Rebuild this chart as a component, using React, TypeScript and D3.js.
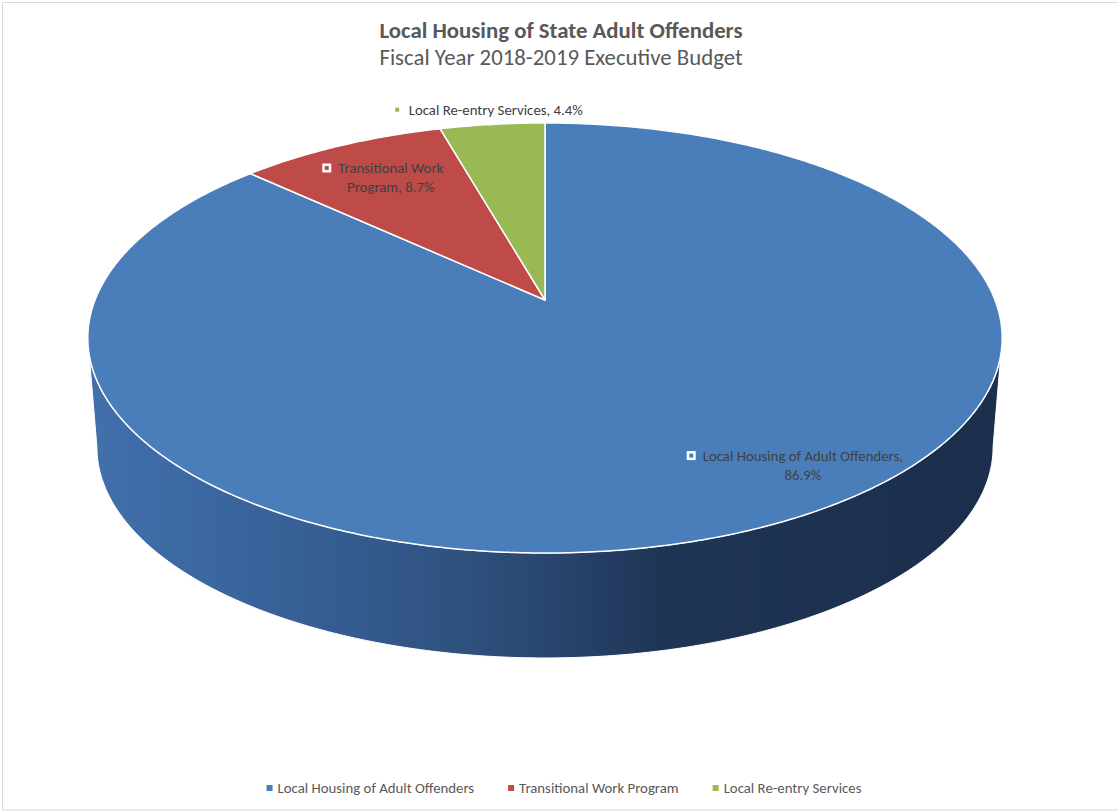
import React, { useEffect, useRef } from "react";
import * as d3 from "d3";

const categories = ["Local Housing of Adult Offenders", "Transitional Work Program", "Local Re-entry Services"];
const values = [86.9, 8.7, 4.4];
const labelLines = [
  ["Local Housing of Adult Offenders,", "86.9%"],
  ["Transitional Work", "Program, 8.7%"],
  ["Local Re-entry Services, 4.4%"],
];
const colors = ["#4a7ebb", "#be4b48", "#98b954"];
const titleText = "Local Housing of State Adult Offenders";
const subtitleText = "Fiscal Year 2018-2019 Executive Budget";

// label placement config: radial factor and alignment of the marker/block
const labelR = [0.72, 0.77, 1.1];
const labelAlign = ["start", "middle", "middle"];

const W = 1118;
const H = 812;
const CX = 545;
const CY = 300;
const A = 450;
const B = 208.3;
const K = 0.1767;
const S = 0.98;
const CYB = 410;
const FONT = "Carlito, Calibri, Lato, 'Noto Sans', sans-serif";
const LABEL_FS = 14.8;
const TITLE_FS = 22.8;

function proj(theta: number, r: number, bottom = false): [number, number] {
  const u = r * Math.sin(theta);
  const v = -r * Math.cos(theta);
  const d = 1 - K * v;
  const X = (A * u) / d;
  const Y = (B * v) / d;
  return bottom ? [CX + S * X, CYB + S * Y] : [CX + X, CY + Y];
}

function arcPoints(a0: number, a1: number, bottom = false) {
  const n = Math.max(2, Math.ceil(Math.abs(a1 - a0) / 0.01));
  const pts: [number, number][] = [];
  for (let i = 0; i <= n; i++) {
    const t = a0 + ((a1 - a0) * i) / n;
    pts.push(proj(t, 1, bottom));
  }
  return pts;
}

export default function App() {
  const ref = useRef<SVGSVGElement>(null);
  useEffect(() => {
    const svg = d3.select(ref.current);
    svg.selectAll("*").remove();

    svg.append("rect").attr("x", 2.5).attr("y", 2.5).attr("width", W + 10).attr("height", H - 4.5)
      .attr("fill", "#fff").attr("stroke", "#d9d9d9").attr("stroke-width", 1);

    const defs = svg.append("defs");
    const grad = defs.append("linearGradient").attr("id", "sideGrad")
      .attr("gradientUnits", "userSpaceOnUse").attr("x1", 88).attr("x2", 1002).attr("y1", 0).attr("y2", 0);
    const stops: [number, string][] = [
      [0, "#4170ab"], [0.12, "#3b68a1"], [0.3, "#345a8e"], [0.42, "#2e507c"],
      [0.55, "#263f66"], [0.63, "#1f3555"], [1, "#1b2f4c"],
    ];
    stops.forEach(([o, c]) => grad.append("stop").attr("offset", o).attr("stop-color", c));

    const pie = d3.pie<number>().sort(null).value((d) => d);
    const arcs = pie(values);
    const line = d3.line<[number, number]>();

    // side (front visible part)
    const tR = Math.acos(-K);
    const tL = 2 * Math.PI - tR;
    arcs.forEach((a, i) => {
      const s0 = Math.max(a.startAngle, tR);
      const s1 = Math.min(a.endAngle, tL);
      if (s1 <= s0) return;
      const top = arcPoints(s0, s1, false);
      const bot = arcPoints(s1, s0, true);
      const pts = top.concat(bot);
      svg.append("path").attr("d", line(pts) + "Z")
        .attr("fill", i === 0 ? "url(#sideGrad)" : d3.color(colors[i])!.darker(1).toString())
        .attr("stroke", "#fff").attr("stroke-width", 1);
    });

    // top faces
    arcs.forEach((a, i) => {
      const pts: [number, number][] = [[CX, CY], ...arcPoints(a.startAngle, a.endAngle, false)];
      svg.append("path").attr("d", line(pts) + "Z")
        .attr("fill", colors[i]).attr("stroke", "#fff").attr("stroke-width", 1.5)
        .attr("stroke-linejoin", "round");
    });

    // data labels
    arcs.forEach((a, i) => {
      const mid = (a.startAngle + a.endAngle) / 2;
      const [ax, ay] = proj(mid, labelR[i], false);
      const g = svg.append("g");
      const lines = labelLines[i];
      const lh = 19;
      const t0 = g.append("text").attr("font-family", FONT).attr("font-size", LABEL_FS)
        .attr("fill", "#404040").attr("dominant-baseline", "central").text(lines[0]);
      const w0 = (t0.node() as SVGTextElement).getComputedTextLength();
      const off = 16;
      const blockW = off + w0;
      const left = labelAlign[i] === "start" ? ax - 5 : ax - blockW / 2;
      const y0 = labelAlign[i] === "start" ? ay : ay - ((lines.length - 1) * lh) / 2;
      t0.attr("x", left + off).attr("y", y0);
      g.append("rect").attr("x", left + 1.25).attr("y", y0 - 3.25).attr("width", 6.5).attr("height", 6.5)
        .attr("fill", colors[i]).attr("stroke", "#fff").attr("stroke-width", 2.5);
      for (let j = 1; j < lines.length; j++) {
        g.append("text").attr("font-family", FONT).attr("font-size", LABEL_FS).attr("fill", "#404040")
          .attr("dominant-baseline", "central").attr("text-anchor", "middle")
          .attr("x", left + off + w0 / 2).attr("y", y0 + j * lh).text(lines[j]);
      }
    });

    // titles
    svg.append("text").attr("x", 561).attr("y", 30).attr("text-anchor", "middle")
      .attr("dominant-baseline", "central").attr("font-family", FONT).attr("font-weight", "bold")
      .attr("font-size", TITLE_FS).attr("fill", "#595959").text(titleText);
    svg.append("text").attr("x", 561).attr("y", 57).attr("text-anchor", "middle")
      .attr("dominant-baseline", "central").attr("font-family", FONT)
      .attr("font-size", TITLE_FS).attr("fill", "#595959").text(subtitleText);

    // legend
    const lg = svg.append("g");
    let x = 0;
    const gap = 34;
    categories.forEach((c, i) => {
      lg.append("rect").attr("x", x).attr("y", 788 - 3).attr("width", 6).attr("height", 6).attr("fill", colors[i]);
      const t = lg.append("text").attr("x", x + 11).attr("y", 788).attr("dominant-baseline", "central")
        .attr("font-family", FONT).attr("font-size", LABEL_FS).attr("fill", "#595959").text(c);
      const w = (t.node() as SVGTextElement).getComputedTextLength();
      x += 11 + w + gap;
    });
    const total = x - gap;
    lg.attr("transform", `translate(${564 - total / 2},0)`);
  }, []);

  return (
    <svg ref={ref} width={W} height={H}
      style={{ position: "absolute", left: 0, top: 0, display: "block" }} />
  );
}
